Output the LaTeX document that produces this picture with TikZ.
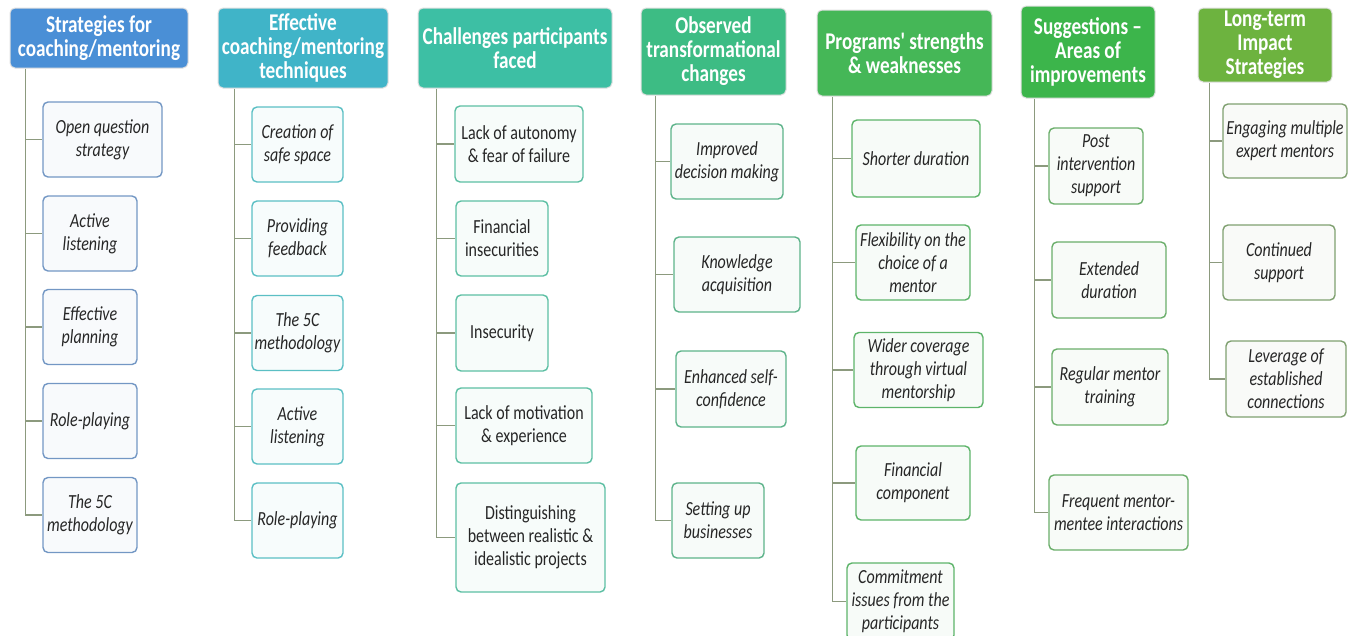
\documentclass[tikz,border=0pt]{standalone}
\usepackage{fontspec}
\newfontfamily\cfam[FakeStretch=0.8]{Carlito}
\newcommand\hfont{\cfam\bfseries\fontsize{24}{24}\selectfont}
\newcommand\lfont{\cfam\itshape\fontsize{20}{23}\selectfont}
\newcommand\ufont{\cfam\fontsize{20}{23}\selectfont}

\definecolor{hA}{HTML}{4A8FD6}
\definecolor{hB}{HTML}{40B4C8}
\definecolor{hC}{HTML}{3DBFA4}
\definecolor{hD}{HTML}{3DBC84}
\definecolor{hE}{HTML}{45B757}
\definecolor{hF}{HTML}{3CB54B}
\definecolor{hG}{HTML}{6DB33F}
\definecolor{bA}{HTML}{7397C4}
\definecolor{bB}{HTML}{5BBFC4}
\definecolor{bC}{HTML}{5CBFA3}
\definecolor{bD}{HTML}{5DB38A}
\definecolor{bE}{HTML}{5DB46A}
\definecolor{bF}{HTML}{6AAE6A}
\definecolor{bG}{HTML}{7FA070}
\definecolor{conncol}{HTML}{8C9A7E}

\tikzset{
  hdr/.style={rectangle, rounded corners=5pt, fill=#1, draw=black!12, line width=1pt,
              text=white, font=\hfont, align=center, inner sep=0pt},
  leaf/.style={rectangle, rounded corners=5pt, draw=#1, fill=#1!5!white, line width=1.4pt,
               font=\lfont, align=center, inner sep=0pt, text=black!85},
  uleaf/.style={leaf=#1, font=\ufont},
  conn/.style={draw=conncol, line width=1.8pt},
}

\begin{document}
\begin{tikzpicture}[x=1pt,y=-1pt]
\useasboundingbox (0,0) rectangle (1357,635);

% ---- column 1
\node[hdr=hA, minimum width=178, minimum height=60] (h1) at (99,38)
  {Strategies for\\coaching/mentoring};
\node[leaf=bA, minimum width=119, minimum height=75] (a1) at (102.5,139.5) {Open question\\strategy};
\node[leaf=bA, minimum width=94, minimum height=75] (a2) at (90,233.5) {Active\\listening};
\node[leaf=bA, minimum width=94, minimum height=75] (a3) at (90,327) {Effective\\planning};
\node[leaf=bA, minimum width=94, minimum height=75] (a4) at (90,421) {Role-playing};
\node[leaf=bA, minimum width=94, minimum height=75] (a5) at (90,515) {The 5C\\methodology};

% ---- column 2
\node[hdr=hB, minimum width=170, minimum height=80] (h2) at (303,48)
  {Effective\\coaching/mentoring\\techniques};
\node[leaf=bB, minimum width=91, minimum height=75] (b1) at (297.5,144.5) {Creation of\\safe space};
\node[leaf=bB, minimum width=91, minimum height=75] (b2) at (297.5,238.5) {Providing\\feedback};
\node[leaf=bB, minimum width=91, minimum height=75] (b3) at (297.5,333) {The 5C\\methodology};
\node[leaf=bB, minimum width=91, minimum height=75] (b4) at (297.5,426.5) {Active\\listening};
\node[leaf=bB, minimum width=91, minimum height=75] (b5) at (297.5,520.5) {Role-playing};

% ---- column 3
\node[hdr=hC, minimum width=194, minimum height=80] (h3) at (515,48)
  {Challenges participants\\faced};
\node[uleaf=bC, minimum width=128, minimum height=76] (c1) at (519,144) {Lack of autonomy\\\& fear of failure};
\node[uleaf=bC, minimum width=92, minimum height=75] (c2) at (502,238.5) {Financial\\insecurities};
\node[uleaf=bC, minimum width=92, minimum height=76] (c3) at (502,333) {Insecurity};
\node[uleaf=bC, minimum width=136, minimum height=75] (c4) at (524,425.5) {Lack of motivation\\\& experience};
\node[uleaf=bC, minimum width=149, minimum height=109] (c5) at (530.5,537.5)
  {Distinguishing\\between realistic \&\\idealistic projects};

% ---- column 4
\node[hdr=hD, minimum width=145, minimum height=87] (h4) at (713.5,51.5)
  {Observed\\transformational\\changes};
\node[leaf=bD, minimum width=112, minimum height=75] (d1) at (727,161.5) {Improved\\decision making};
\node[leaf=bD, minimum width=126, minimum height=75] (d2) at (737,274.5) {Knowledge\\acquisition};
\node[leaf=bD, minimum width=110, minimum height=76] (d3) at (731,389) {Enhanced self-\\confidence};
\node[leaf=bD, minimum width=92, minimum height=75] (d4) at (718,520.5) {Setting up\\businesses};

% ---- column 5
\node[hdr=hE, minimum width=175, minimum height=86] (h5) at (904.5,53)
  {Programs' strengths\\\& weaknesses};
\node[leaf=bE, minimum width=128, minimum height=77] (e1) at (916,158.5) {Shorter duration};
\node[leaf=bE, minimum width=114, minimum height=75] (e2) at (913,262.5) {Flexibility on the\\choice of a\\mentor};
\node[leaf=bE, minimum width=129, minimum height=75] (e3) at (918.5,370) {Wider coverage\\through virtual\\mentorship};
\node[leaf=bE, minimum width=114, minimum height=74] (e4) at (913,483) {Financial\\component};
\node[leaf=bE, minimum width=107, minimum height=77] (e5) at (900.5,601.5) {Commitment\\issues from the\\participants};

% ---- column 6
\node[hdr=hF, minimum width=134, minimum height=92] (h6) at (1088,52)
  {Suggestions –\\Areas of\\improvements};
\node[leaf=bF, minimum width=94, minimum height=76] (f1) at (1096,166) {Post\\intervention\\support};
\node[leaf=bF, minimum width=114, minimum height=76] (f2) at (1109,280) {Extended\\duration};
\node[leaf=bF, minimum width=116, minimum height=76] (f3) at (1110,387) {Regular mentor\\training};
\node[leaf=bF, minimum width=139, minimum height=75] (f4) at (1118.5,512.5) {Frequent mentor-\\mentee interactions};

% ---- column 7
\node[hdr=hG, minimum width=134, minimum height=74] (h7) at (1265,45)
  {Long-term\\Impact\\Strategies};
\node[leaf=bG, minimum width=124, minimum height=74] (g1) at (1285,141) {Engaging multiple\\expert mentors};
\node[leaf=bG, minimum width=112, minimum height=75] (g2) at (1279,262.5) {Continued\\support};
\node[leaf=bG, minimum width=120, minimum height=76] (g3) at (1286,379) {Leverage of\\established\\connections};

% ---- trunks and branches
\coordinate (t1) at ([xshift=16pt]h1.south west);
\coordinate (t2) at ([xshift=17pt]h2.south west);
\coordinate (t3) at ([xshift=19pt]h3.south west);
\coordinate (t4) at ([xshift=15pt]h4.south west);
\coordinate (t5) at ([xshift=16pt]h5.south west);
\coordinate (t6) at ([xshift=14pt]h6.south west);
\coordinate (t7) at ([xshift=12pt]h7.south west);

\foreach \t/\list/\last in {t1/{a1,a2,a3,a4}/a5, t2/{b1,b2,b3,b4}/b5, t3/{c1,c2,c3,c4}/c5,
                            t4/{d1,d2,d3}/d4, t5/{e1,e2,e3,e4}/e5, t6/{f1,f2,f3}/f4, t7/{g1,g2}/g3}{
  \draw[conn] (\t) |- (\last.west);
  \foreach \n in \list { \draw[conn] (\n.west -| \t) -- (\n.west); }
}
\end{tikzpicture}
\end{document}
